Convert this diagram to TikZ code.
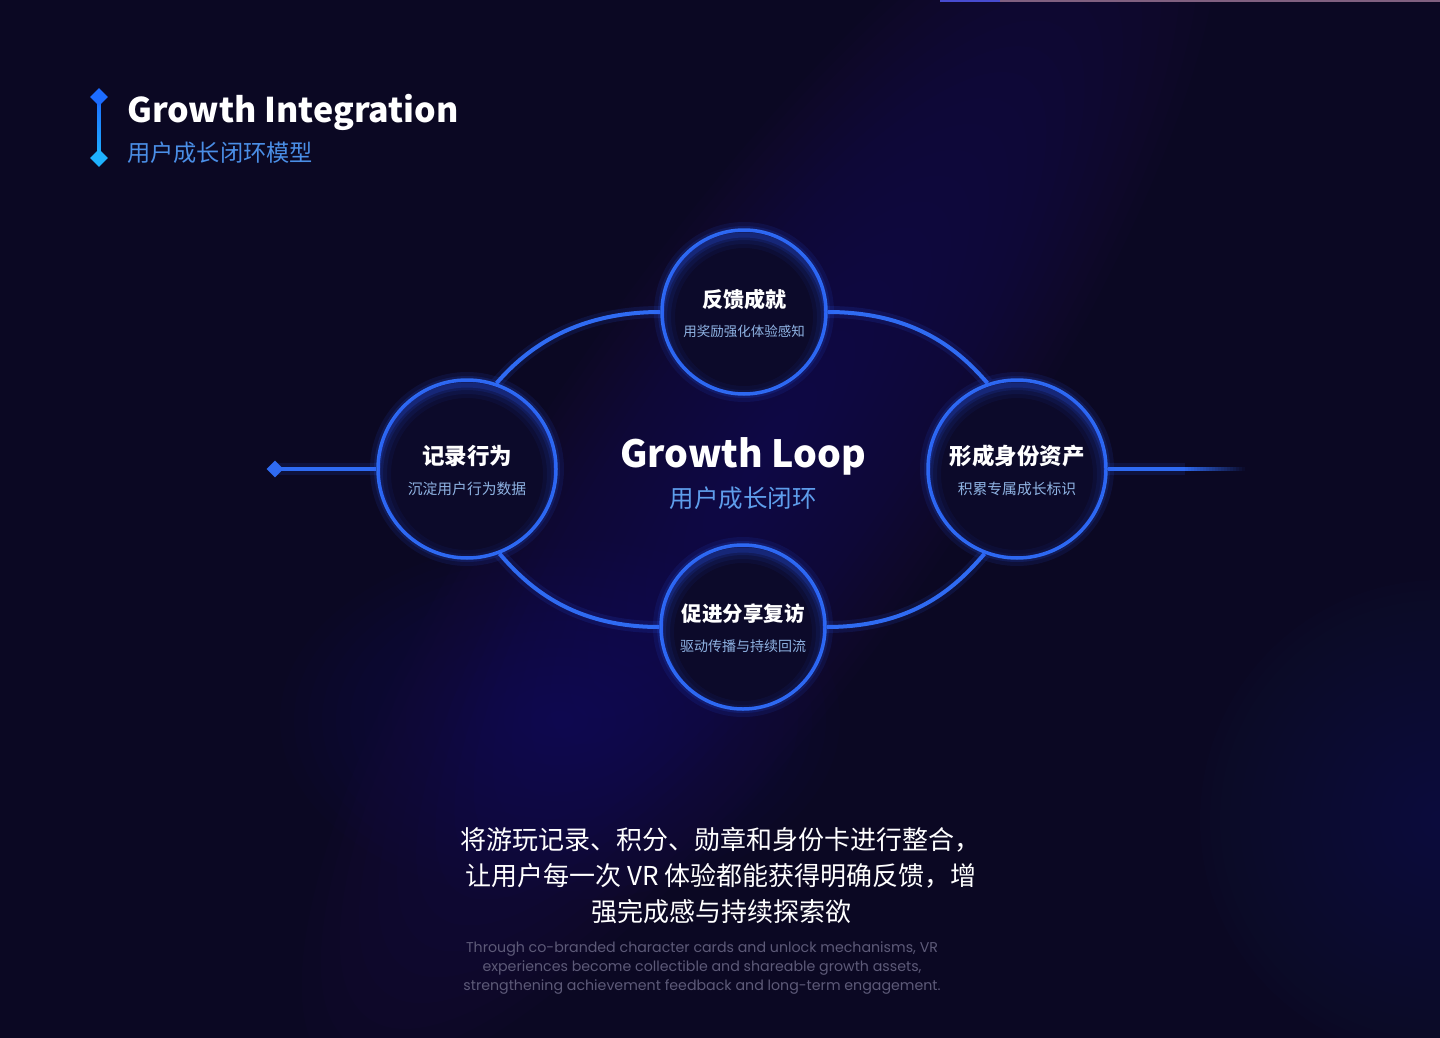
\documentclass[tikz,border=0pt]{standalone}
\usepackage{fontspec}
\setmainfont{Noto Sans CJK SC}
\newfontfamily\popfont{Poppins}
\usetikzlibrary{shapes.geometric,calc}
\definecolor{bg}{HTML}{0B0823}
\definecolor{lineblue}{HTML}{2F6BF2}
\definecolor{glowblue}{HTML}{2A5BFF}
\definecolor{circfill}{HTML}{0C0A2A}
\definecolor{subblue}{HTML}{8FB3E3}
\definecolor{titleblue}{HTML}{4A8EE6}
\definecolor{centerblue}{HTML}{5E9DEB}
\definecolor{graytext}{HTML}{5D5A78}
\definecolor{purpleglow}{HTML}{2A0E6E}
\definecolor{cornerglow}{HTML}{1B3D8A}
\definecolor{diatop}{HTML}{1C6CFF}
\definecolor{diabot}{HTML}{1EB2FF}
\pgfdeclarelayer{back}
\pgfdeclarelayer{mid}
\pgfsetlayers{back,mid,main}
\begin{document}
\begin{tikzpicture}[x=1pt,y=-1pt,
  ring/.style={circle, draw=lineblue, line width=3.5pt, fill=circfill, inner sep=0pt},
  conn/.style={draw=lineblue, line width=4pt},
  connglow/.style={draw=glowblue, line width=12pt, opacity=.12},
  ctitle/.style={text=white, font=\bfseries\fontsize{#1}{#1}\selectfont, inner sep=0pt},
  csub/.style={text=subblue, font=\fontsize{#1}{#1}\selectfont, inner sep=0pt},
  tip/.style={diamond, fill=#1, minimum width=18pt, minimum height=18pt, inner sep=0pt},
  bodyzh/.style={text=white, font=\fontsize{26}{26}\selectfont, inner sep=0pt, anchor=base},
  bodyen/.style={text=graytext, font=\popfont\fontsize{14.2}{14.2}\selectfont, inner sep=0pt, anchor=base}
]
\useasboundingbox (0,0) rectangle (1440,1038);
\begin{pgfonlayer}{back}
\fill[bg] (0,0) rectangle (1440,1038);
% purple diagonal glow
\begin{scope}[shift={(760,460)}, rotate=55]
\foreach \k in {1,...,24}{
  \fill[purpleglow, opacity=.035] (0,0) ellipse [x radius={31*\k}, y radius={8.5*\k}];
}
\end{scope}
\begin{scope}[shift={(560,720)}]
\foreach \k in {1,...,20}{
  \fill[purpleglow, opacity=.03] (0,0) ellipse [x radius={14*\k}, y radius={9*\k}];
}
\end{scope}
% bottom right glow
\begin{scope}[shift={(1440,820)}]
\foreach \k in {1,...,24}{
  \fill[cornerglow, opacity=.018] (0,0) circle [radius={10*\k}];
}
\end{scope}
% top edge strip
\fill[lineblue!70!violet] (940,0) rectangle (1000,1.6);
\fill[violet!25!gray] (1000,0) rectangle (1440,1.6);
\end{pgfonlayer}

% ---------- title ----------
\shade[top color=diatop, bottom color=diabot] (97.5,97) rectangle (100.5,158);
\node[tip=diatop] (tdTop) at (99,97) {};
\node[tip=diabot] (tdBot) at (99,158) {};
\node[anchor=base west, inner sep=0pt, text=white, font=\bfseries\fontsize{34}{34}\selectfont] (title) at (127,123) {Growth Integration};
\node[anchor=base west, inner sep=0pt, text=titleblue, font=\fontsize{23.2}{23.2}\selectfont] (subtitle) at (127,161) {用户成长闭环模型};

% ---------- circles ----------
\coordinate (cT) at (744,312);
\coordinate (cL) at (467,469);
\coordinate (cR) at (1017,469);
\coordinate (cB) at (743,627);

\foreach \c/\r in {cT/82, cL/89, cR/89, cB/82}{
  \draw[glowblue, line width=12pt, opacity=.10] (\c) circle [radius=\r+2];
  \draw[glowblue, line width=6pt, opacity=.15] (\c) circle [radius=\r+1];
}

\node[ring, minimum size=164pt] (top) at (cT) {};
\node[ring, minimum size=178pt] (left) at (cL) {};
\node[ring, minimum size=178pt] (right) at (cR) {};
\node[ring, minimum size=164pt] (bot) at (cB) {};

% inner glows
\foreach \c/\r in {cT/82, cL/89, cR/89, cB/82}{
  \begin{scope}
    \clip (\c) circle [radius=\r];
    \foreach \w/\o in {26/.06, 18/.08, 10/.12, 5/.18}{
      \draw[glowblue, line width=\w pt, opacity=\o] ([yshift=-5pt]\c) circle [radius=\r];
    }
  \end{scope}
}

% circle texts
\node[ctitle=21] (tTop) at ($(cT)+(0,-13)$) {反馈成就};
\node[csub=13.5] (sTop) at ($(cT)+(0,19)$) {用奖励强化体验感知};
\node[ctitle=22.5] (tLeft) at ($(cL)+(0,-13)$) {记录行为};
\node[csub=14.8] (sLeft) at ($(cL)+(0,20)$) {沉淀用户行为数据};
\node[ctitle=22.5] (tRight) at ($(cR)+(0,-13)$) {形成身份资产};
\node[csub=14.8] (sRight) at ($(cR)+(0,20)$) {积累专属成长标识};
\node[ctitle=20.5] (tBot) at ($(cB)+(0,-13)$) {促进分享复访};
\node[csub=14] (sBot) at ($(cB)+(0,19)$) {驱动传播与持续回流};

% center text
\node[anchor=base, inner sep=0pt, text=white, font=\bfseries\fontsize{37.5}{37.5}\selectfont] (loop) at (743,467) {Growth Loop};
\node[anchor=base, inner sep=0pt, text=centerblue, font=\fontsize{24.5}{24.5}\selectfont] (loopzh) at (743,507) {用户成长闭环};

% ---------- connectors ----------
\node[tip=lineblue, minimum width=17pt, minimum height=17pt] (ldia) at (275,469) {};
\coordinate (rmid) at (1185,469);
\begin{pgfonlayer}{mid}
\draw[connglow] (top.180) .. controls +(-90,0) and +(26,-30) .. (left.71);
\draw[connglow] (top.0) .. controls +(90,0) and +(-26,-30) .. (right.109);
\draw[connglow] (left.-69) .. controls +(26,30) and +(-90,0) .. (bot.180);
\draw[connglow] (right.-111) .. controls +(-26,30) and +(90,0) .. (bot.0);
\draw[connglow] (left.180) -- (ldia.center);
\draw[connglow] (right.0) -- (rmid);
\draw[conn] (top.180) .. controls +(-90,0) and +(26,-30) .. (left.71);
\draw[conn] (top.0) .. controls +(90,0) and +(-26,-30) .. (right.109);
\draw[conn] (left.-69) .. controls +(26,30) and +(-90,0) .. (bot.180);
\draw[conn] (right.-111) .. controls +(-26,30) and +(90,0) .. (bot.0);
\draw[conn] (left.180) -- (ldia.center);
\draw[conn] (right.0) -- (rmid);
\foreach \i in {0,...,19}{
  \pgfmathsetmacro\op{1-(\i+1)/21}
  \draw[conn, opacity=\op] ($(rmid)+(\i*3,0)$) -- ++(3,0);
}
\end{pgfonlayer}

% ---------- bottom text ----------
\node[bodyzh] (zh1) at (720,849) {将游玩记录、积分、勋章和身份卡进行整合，};
\node[bodyzh] (zh2) at (721,885) {让用户每一次 VR 体验都能获得明确反馈，增};
\node[bodyzh] (zh3) at (721,921) {强完成感与持续探索欲};
\node[bodyen] (en1) at (702,952) {Through co-branded character cards and unlock mechanisms, VR};
\node[bodyen] (en2) at (702,971) {experiences become collectible and shareable growth assets,};
\node[bodyen] (en3) at (702,990) {strengthening achievement feedback and long-term engagement.};
\end{tikzpicture}
\end{document}
